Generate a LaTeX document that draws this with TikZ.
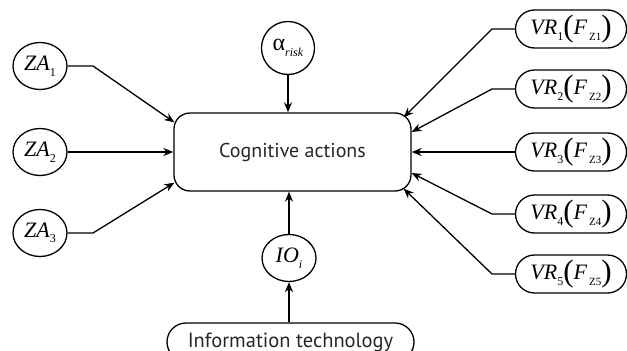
\documentclass[tikz,border=0pt]{standalone}
\usepackage{fontspec}
\setmainfont{Liberation Serif}
\setsansfont{PT Sans}
\usetikzlibrary{arrows.meta,shapes.geometric,calc}
\newcommand\mvar[1]{\textit{#1}}
\newcommand\lowsub[1]{\raisebox{-0.55ex}{\fontsize{12}{12}\selectfont #1}}
\newcommand\zsub[1]{\raisebox{-0.6ex}{\fontsize{11}{11}\selectfont\,#1}}
\newcommand\bigparen[1]{\raisebox{-0.18ex}{\fontsize{31}{31}\selectfont #1}}
\tikzset{
  oval/.style={draw, line width=1.3pt, ellipse, inner sep=0pt, minimum width=54pt, minimum height=47pt, font=\fontsize{22}{22}\selectfont},
  roundc/.style={draw, line width=1.3pt, circle, inner sep=0pt, minimum size=53pt, font=\fontsize{22}{22}\selectfont},
  pill/.style={draw, line width=1.3pt, rectangle, rounded corners=19pt, minimum width=111pt, minimum height=38pt, inner sep=0pt, font=\fontsize{22}{22}\selectfont},
  mainbox/.style={draw, line width=1.3pt, rectangle, rounded corners=16pt, minimum width=237pt, minimum height=78pt, inner sep=0pt, font=\sffamily\fontsize{20}{20}\selectfont, text=black!85},
  itbox/.style={draw, line width=1.3pt, rectangle, rounded corners=19pt, minimum width=247pt, minimum height=38pt, inner sep=0pt, font=\sffamily\fontsize{20.5}{20.5}\selectfont, text=black!85},
  arr/.style={line width=1.3pt, -{Stealth[length=10pt,width=8pt]}}
}
\begin{document}
\begin{tikzpicture}[x=1pt,y=-1pt]
\useasboundingbox (0,0) rectangle (627,351);
\node[mainbox] (cog) at (292.5,152) {Cognitive actions};
\node[oval] (za1) at (40,66) {\mvar{ZA}\lowsub{1}};
\node[oval] (za2) at (40,152) {\mvar{ZA}\lowsub{2}};
\node[oval] (za3) at (40,233) {\mvar{ZA}\lowsub{3}};
\node[roundc] (alpha) at (288,48) {\fontsize{24}{24}\selectfont α\lowsub{\textit{risk}}};
\node[oval] (io) at (289,258) {\mvar{IO}\lowsub{\textit{i}}};
\node[itbox] (it) at (290.5,342) {\raisebox{2pt}{Information technology}};
\node[pill] (vr1) at (571,29) {\mvar{VR}\lowsub{1}\bigparen{(}\mvar{F}\zsub{Z1}\bigparen{)}};
\node[pill] (vr2) at (571,89) {\mvar{VR}\lowsub{2}\bigparen{(}\mvar{F}\zsub{Z2}\bigparen{)}};
\node[pill] (vr3) at (571,152) {\mvar{VR}\lowsub{3}\bigparen{(}\mvar{F}\zsub{Z3}\bigparen{)}};
\node[pill] (vr4) at (571,214) {\mvar{VR}\lowsub{4}\bigparen{(}\mvar{F}\zsub{Z4}\bigparen{)}};
\node[pill] (vr5) at (571,274) {\mvar{VR}\lowsub{5}\bigparen{(}\mvar{F}\zsub{Z5}\bigparen{)}};
% left
\draw[arr] (za1.east) -- (93,66) -- ($(cog.north west)+(1,10)$);
\draw[arr] (za2.east) -- (cog.west);
\draw[arr] (za3.east) -- (93,233) -- ($(cog.south west)+(1,-9)$);
% top / bottom
\draw[arr] (alpha.south) -- (alpha.south |- cog.north);
\draw[arr] (io.north) -- (io.north |- cog.south);
\draw[arr] (io.south |- it.north) -- (io.south);
% right
\draw[arr] (vr1.west) -- (492,29) -- ($(cog.north east)+(-8,5)$);
\draw[arr] (vr2.west) -- (492,89) -- ($(cog.east)+(0,-20)$);
\draw[arr] (vr3.west) -- (cog.east);
\draw[arr] (vr4.west) -- (492,214) -- ($(cog.east)+(0,21)$);
\draw[arr] (vr5.west) -- (492,274) -- ($(cog.south east)+(-8,-3)$);
\end{tikzpicture}
\end{document}
